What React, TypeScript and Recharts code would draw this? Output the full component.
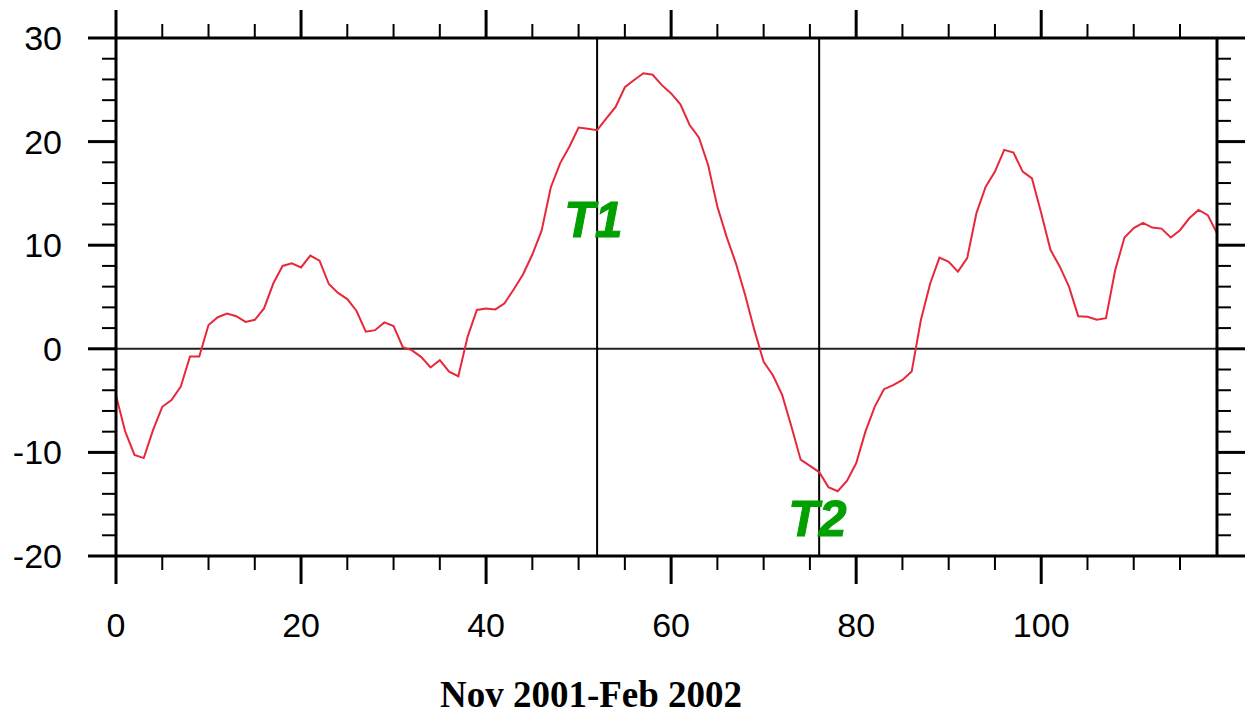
import React from 'react';
import { ComposedChart, Line, XAxis, YAxis, ReferenceLine, ReferenceDot } from 'recharts';

const values: number[] = [
  -4.5, -8.0, -10.25, -10.55, -7.85, -5.6, -4.95, -3.65, -0.75, -0.75,
  2.3, 3.05, 3.4, 3.15, 2.6, 2.8, 3.9, 6.3, 8.0, 8.25,
  7.85, 9.0, 8.5, 6.25, 5.4, 4.8, 3.65, 1.65, 1.8, 2.55,
  2.2, 0.15, -0.15, -0.8, -1.8, -1.1, -2.2, -2.65, 1.15, 3.75,
  3.9, 3.8, 4.4, 5.75, 7.2, 9.1, 11.4, 15.6, 17.9, 19.5,
  21.35, 21.25, 21.1, 22.25, 23.35, 25.25, 25.95, 26.6, 26.45, 25.45,
  24.65, 23.6, 21.6, 20.4, 17.75, 13.7, 10.8, 8.25, 5.2, 1.8,
  -1.25, -2.55, -4.45, -7.5, -10.7, -11.3, -11.9, -13.35, -13.75, -12.75,
  -11.05, -8.0, -5.6, -3.9, -3.5, -3.0, -2.2, 2.8, 6.3, 8.8,
  8.4, 7.45, 8.75, 13.1, 15.65, 17.1, 19.2, 18.95, 17.1, 16.45,
  13.1, 9.55, 7.95, 6.0, 3.15, 3.1, 2.8, 2.95, 7.6, 10.75,
  11.65, 12.15, 11.7, 11.6, 10.75, 11.45, 12.6, 13.4, 12.9, 11.15,
];

const xMajorTicks = [0, 20, 40, 60, 80, 100];
const xAllTicks = [0, 5, 10, 15, 20, 25, 30, 35, 40, 45, 50, 55, 60, 65, 70, 75, 80, 85, 90, 95, 100, 105, 110, 115];
const yMajorTicks = [-20, -10, 0, 10, 20, 30];
const yAllTicks = [-20, -18, -16, -14, -12, -10, -8, -6, -4, -2, 0, 2, 4, 6, 8, 10, 12, 14, 16, 18, 20, 22, 24, 26, 28, 30];
const eventLines = [52, 76];
const eventLabels = [
  { t: 51.6, v: 12.5, label: 'T1' },
  { t: 75.8, v: -16.4, label: 'T2' },
];
const title = 'Nov 2001-Feb 2002';

const data = values.map((v, i) => ({ t: i, v }));

const FONT = '"Liberation Sans", Arial, Helvetica, sans-serif';
const MAJOR = 28;
const MINOR = 14;

const BottomTick = (props: any) => {
  const { x, y, payload } = props;
  const major = xMajorTicks.includes(payload.value);
  return (
    <g>
      <line x1={x} x2={x} y1={y} y2={y + (major ? MAJOR : MINOR)} stroke="#000" strokeWidth={major ? 3 : 2} />
      {major && (
        <text x={x} y={y + 81} textAnchor="middle" fontSize={34} fontFamily={FONT} fill="#000">
          {payload.value}
        </text>
      )}
    </g>
  );
};

const TopTick = (props: any) => {
  const { x, y, payload } = props;
  const major = xMajorTicks.includes(payload.value);
  return <line x1={x} x2={x} y1={y} y2={y - (major ? MAJOR : MINOR)} stroke="#000" strokeWidth={major ? 3 : 2} />;
};

const LeftTick = (props: any) => {
  const { x, y, payload } = props;
  const major = yMajorTicks.includes(payload.value);
  return (
    <g>
      <line x1={x} x2={x - (major ? MAJOR : MINOR)} y1={y} y2={y} stroke="#000" strokeWidth={major ? 3 : 2} />
      {major && (
        <text x={x - 54} y={y + 12} textAnchor="end" fontSize={34} fontFamily={FONT} fill="#000">
          {payload.value}
        </text>
      )}
    </g>
  );
};

const RightTick = (props: any) => {
  const { x, y, payload } = props;
  const major = yMajorTicks.includes(payload.value);
  return <line x1={x} x2={x + (major ? MAJOR : MINOR)} y1={y} y2={y} stroke="#000" strokeWidth={major ? 3 : 2} />;
};

export default function App() {
  return (
    <div style={{ position: 'absolute', left: 0, top: 0, width: 1247, height: 715, background: '#fff' }}>
      <ComposedChart
        width={1247}
        height={715}
        data={data}
        margin={{ top: 37, right: 29, bottom: 158, left: 115 }}
      >
        <XAxis
          xAxisId={0}
          dataKey="t"
          type="number"
          domain={[0, 119]}
          ticks={xAllTicks}
          interval={0}
          height={1}
          tickSize={0}
          tickMargin={0}
          tickLine={false}
          tick={BottomTick}
          axisLine={{ stroke: '#000', strokeWidth: 3 }}
          allowDataOverflow
        />
        <XAxis
          xAxisId="top"
          orientation="top"
          dataKey="t"
          type="number"
          domain={[0, 119]}
          ticks={xAllTicks}
          interval={0}
          height={1}
          tickSize={0}
          tickMargin={0}
          tickLine={false}
          tick={TopTick}
          axisLine={{ stroke: '#000', strokeWidth: 3 }}
          allowDataOverflow
        />
        <YAxis
          yAxisId={0}
          type="number"
          domain={[-20, 30]}
          ticks={yAllTicks}
          interval={0}
          width={1}
          tickSize={0}
          tickMargin={0}
          tickLine={false}
          tick={LeftTick}
          axisLine={{ stroke: '#000', strokeWidth: 3 }}
          allowDataOverflow
        />
        <YAxis
          yAxisId="right"
          orientation="right"
          type="number"
          domain={[-20, 30]}
          ticks={yAllTicks}
          interval={0}
          width={1}
          tickSize={0}
          tickMargin={0}
          tickLine={false}
          tick={RightTick}
          axisLine={{ stroke: '#000', strokeWidth: 3 }}
          allowDataOverflow
        />
        <ReferenceLine y={0} stroke="#222" strokeWidth={2} />
        {eventLines.map((t) => (
          <ReferenceLine key={t} x={t} stroke="#000" strokeWidth={2} />
        ))}
        <Line
          type="linear"
          dataKey="v"
          stroke="#e8283a"
          strokeWidth={2}
          dot={false}
          activeDot={false}
          isAnimationActive={false}
        />
        {eventLabels.map((m) => (
          <ReferenceDot
            key={m.label}
            x={m.t}
            y={m.v}
            r={0}
            fill="none"
            stroke="none"
            label={{
              value: m.label,
              position: 'center',
              fill: '#00a000',
              stroke: '#00a000',
              strokeWidth: 1,
              fontSize: 50,
              fontWeight: 'bold',
              fontStyle: 'italic',
              fontFamily: FONT,
            }}
          />
        ))}
      </ComposedChart>
      <svg width={1247} height={715} style={{ position: 'absolute', left: 0, top: 0, pointerEvents: 'none' }}>
        <text
          x={591}
          y={707}
          textAnchor="middle"
          fontSize={37}
          fontWeight="bold"
          fontFamily='"Liberation Serif", "Times New Roman", serif'
          fill="#000"
        >
          {title}
        </text>
      </svg>
    </div>
  );
}
